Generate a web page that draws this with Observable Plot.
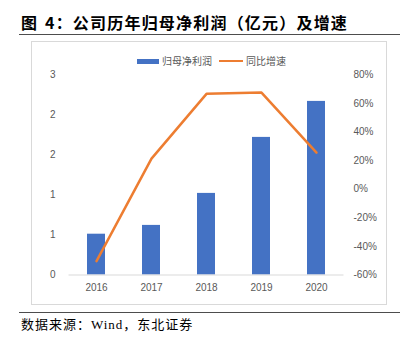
<!DOCTYPE html>
<html>
<head>
<meta charset="utf-8">
<script src="https://cdn.jsdelivr.net/npm/d3@7"></script>
<script src="https://cdn.jsdelivr.net/npm/@observablehq/plot@0.6"></script>
<style>
  html, body { margin: 0; padding: 0; background: #fff; }
  #wrap { position: relative; width: 400px; height: 346px; overflow: hidden; }
  #title { position: absolute; left: 21px; top: 12px; font-family: "Noto Sans CJK SC", sans-serif; font-weight: bold; font-size: 16px; letter-spacing: 1.2px; word-spacing: 2px; color: #000; white-space: nowrap; line-height: 20px; }
  .rule { position: absolute; left: 19px; width: 381px; height: 1.5px; background: #4d4d4d; }
  #box { position: absolute; left: 31px; top: 41px; width: 356px; height: 264px; border: 1px solid #d9d9d9; box-sizing: border-box; }
  #caption { position: absolute; left: 21px; top: 317px; font-family: "Liberation Serif", "Noto Sans CJK SC", serif; font-size: 13px; letter-spacing: 1px; color: #000; white-space: nowrap; line-height: 16px; }
  #legend { position: absolute; left: 137px; top: 54px; font-family: "Noto Sans CJK SC", sans-serif; font-size: 10px; color: #595959; white-space: nowrap; line-height: 14px; display: flex; align-items: center; }
  .sw-bar { display: inline-block; width: 22px; height: 5px; background: #4472C4; margin-right: 3px; }
  .sw-line { display: inline-block; width: 24px; height: 2.5px; background: #ED7D31; margin-left: 7px; margin-right: 3px; }
  svg.plot { position: absolute; left: 0; top: 0; }
</style>
</head>
<body>
<div id="wrap">
  <div id="title">图 4：公司历年归母净利润（亿元）及增速</div>
  <div class="rule" style="top:33.5px"></div>
  <div id="box"></div>
  <div id="legend"><span class="sw-bar"></span>归母净利润<span class="sw-line"></span>同比增速</div>
  <div class="rule" style="top:311.5px"></div>
  <div id="caption">数据来源：Wind，东北证券</div>
</div>
<script>
const years = ["2016", "2017", "2018", "2019", "2020"];
const profit = [0.51, 0.62, 1.02, 1.72, 2.17];      // 亿元
const growth = [-50.3, 21.5, 66.8, 67.7, 25.7];      // %
const leftTicks = [0, 0.5, 1, 1.5, 2, 2.5];
const leftTickLabels = ["0", "1", "1", "2", "2", "3"];
const rightTicks = [-60, -40, -20, 0, 20, 40, 60, 80];
const rightTickLabels = rightTicks.map(v => v + "%");

const leftMax = 2.5, rMin = -60, rMax = 80;
const toLeft = p => (p - rMin) / (rMax - rMin) * leftMax;

const barData = years.map((y, i) => ({year: y, value: profit[i]}));
const lineData = years.map((y, i) => ({year: y, value: toLeft(growth[i])}));

const chart = Plot.plot({
  width: 400,
  height: 346,
  marginTop: 74.5,
  marginBottom: 71.5,
  marginLeft: 68.5,
  marginRight: 56.5,
  style: {fontFamily: "Liberation Sans, sans-serif", fontSize: "10px", color: "#595959", background: "transparent"},
  x: {type: "band", domain: years, paddingInner: 0.68, paddingOuter: 0.34},
  y: {domain: [0, leftMax]},
  marks: [
    Plot.barY(barData, {x: "year", y: "value", fill: "#4472C4"}),
    Plot.ruleY([0], {stroke: "#d9d9d9", strokeWidth: 1}),
    Plot.lineY(lineData, {x: "year", y: "value", stroke: "#ED7D31", strokeWidth: 2.5, strokeLinejoin: "round"}),
    Plot.axisX({tickSize: 0, tickPadding: 9, fill: "#595959", label: null}),
    Plot.axisY({anchor: "left", ticks: leftTicks, tickFormat: (d, i) => leftTickLabels[i], tickSize: 0, tickPadding: 13.5, fill: "#595959", label: null}),
    Plot.axisY({anchor: "right", ticks: rightTicks.map(toLeft), tickFormat: (d, i) => rightTickLabels[i], tickSize: 0, tickPadding: 9.5, fill: "#595959", label: null})
  ]
});
document.getElementById("wrap").appendChild(chart);
</script>
</body>
</html>
